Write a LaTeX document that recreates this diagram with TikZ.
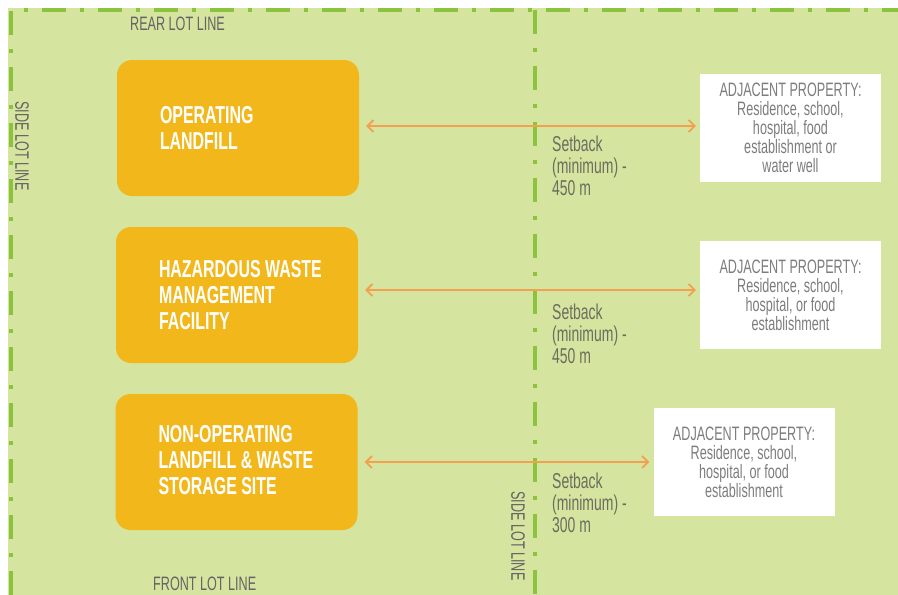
\documentclass[tikz,border=0pt]{standalone}
\usepackage{fontspec}
\setmainfont{Liberation Sans}[FakeStretch=0.65]
\usetikzlibrary{arrows.meta}
\definecolor{bg}{RGB}{213,228,158}
\definecolor{lotgreen}{RGB}{140,195,60}
\definecolor{boxorange}{RGB}{242,183,27}
\definecolor{arrorange}{RGB}{243,160,80}
\definecolor{labgray}{RGB}{100,100,100}
\definecolor{adjgray}{RGB}{125,125,125}
\definecolor{setgray}{RGB}{105,110,95}
\tikzset{
  lotline/.style={draw=lotgreen, line width=3.5pt, dash pattern=on 24pt off 14pt on 4pt off 14pt},
  obox/.style={fill=boxorange, rounded corners=15pt, minimum width=242pt, minimum height=136pt, inner sep=0pt},
  otext/.style={text=white, font=\bfseries\fontsize{24.5}{26}\selectfont, align=left, inner sep=0pt, anchor=west},
  adjbox/.style={fill=white, minimum width=181pt, minimum height=108pt, inner sep=0pt, align=center, text=adjgray, font=\fontsize{19.4}{19}\selectfont},
  setlab/.style={text=setgray, font=\fontsize{21.5}{22}\selectfont, align=left, inner sep=0pt, anchor=west},
  lotlab/.style={text=labgray, font=\fontsize{19.4}{20}\selectfont, inner sep=0pt},
  setarrow/.style={draw=arrorange, line width=1.8pt, {Straight Barb[length=6pt,width=12pt]}-{Straight Barb[length=6pt,width=12pt]}, shorten <=7pt, shorten >=4pt}
}
\begin{document}
\begin{tikzpicture}[x=1pt,y=-1pt]
\useasboundingbox (0,0) rectangle (898,595);
\fill[white] (0,0) rectangle (898,595);
\fill[bg] (8,8) rectangle (898,595);
% lot lines
\draw[lotline] (11,595) -- (11,10) -- (898,10);
\draw[lotline] (535,10) -- (535,595);
% lot labels
\node[lotlab, anchor=west] (rear) at (130,24) {REAR LOT LINE};
\node[lotlab, anchor=west] (front) at (153,584) {FRONT LOT LINE};
\node[lotlab, rotate=-90] (sideA) at (22,146) {SIDE LOT LINE};
\node[lotlab, rotate=-90] (sideB) at (518,536) {SIDE LOT LINE};
% orange boxes
\node[obox] (op) at (238,128) {};
\node[otext] (optext) at ([xshift=43pt]op.west) {OPERATING\\LANDFILL};
\node[obox] (haz) at (237,295) {};
\node[otext] (haztext) at ([xshift=43pt]haz.west) {HAZARDOUS WASTE\\MANAGEMENT\\FACILITY};
\node[obox] (non) at (236.5,462) {};
\node[otext] (nontext) at ([xshift=43pt,yshift=2pt]non.west) {NON-OPERATING\\LANDFILL \& WASTE\\STORAGE SITE};
% adjacent property boxes
\node[adjbox] (adj1) at (790.5,128) {ADJACENT PROPERTY:\\Residence, school,\\hospital, food\\establishment or\\water well};
\node[adjbox] (adj2) at (790.5,295) {ADJACENT PROPERTY:\\Residence, school,\\hospital, or food\\establishment};
\node[adjbox] (adj3) at (744,462) {ADJACENT PROPERTY:\\Residence, school,\\hospital, or food\\establishment};
% setback arrows
\draw[setarrow] ([yshift=2pt]op.east) -- ([yshift=2pt]adj1.west);
\draw[setarrow] ([yshift=5pt]haz.east) -- ([yshift=5pt]adj2.west);
\draw[setarrow] (non.east) -- (adj3.west);
% setback labels
\node[setlab] (set1) at (552,166) {Setback\\(minimum) -\\450 m};
\node[setlab] (set2) at (552,334) {Setback\\(minimum) -\\450 m};
\node[setlab] (set3) at (552,503) {Setback\\(minimum) -\\300 m};
\end{tikzpicture}
\end{document}
